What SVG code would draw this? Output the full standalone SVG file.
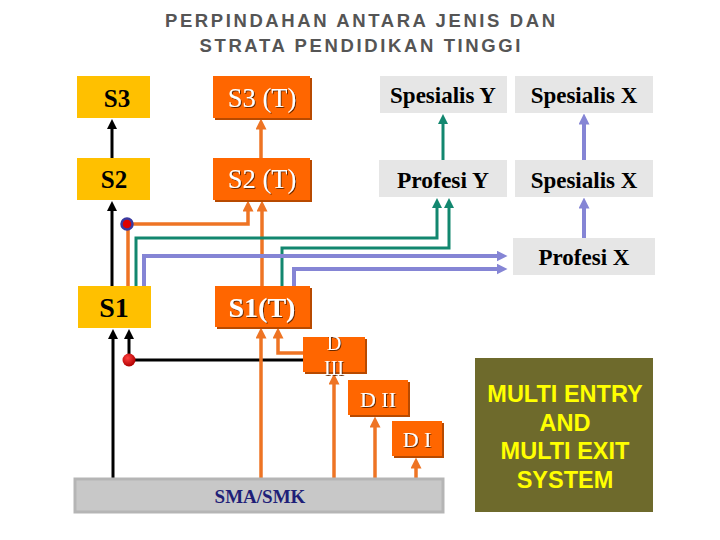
<svg xmlns="http://www.w3.org/2000/svg" width="720" height="540" viewBox="0 0 720 540">
<defs>
<style>
.title{font-family:"Liberation Sans",Arial,sans-serif;font-weight:bold;font-size:18.5px;fill:#555555;text-anchor:middle}
.yel{fill:#FFC000}
.org{fill:#FF6600}
.orgsh{fill:#B84A00}
.gry{fill:#E6E6E6}
.tb{font-family:"Liberation Serif","Times New Roman",serif;font-weight:bold;fill:#000;text-anchor:middle}
.tw{font-family:"Liberation Serif","Times New Roman",serif;fill:#FFFFFF;text-anchor:middle;filter:url(#ts)}
.ln{fill:none;stroke-linejoin:miter;stroke-linecap:butt}
.k{stroke:#000000;stroke-width:3}
.o{stroke:#EE7424;stroke-width:3.5}
.g{stroke:#12876F;stroke-width:3}
.p{stroke:#8585D5;stroke-width:4}
.multi{font-family:"Liberation Sans",Arial,sans-serif;font-weight:bold;font-size:23.5px;fill:#FFFF00;text-anchor:middle}
</style>
<filter id="ts" x="-10%" y="-10%" width="130%" height="140%">
<feDropShadow dx="1" dy="1" stdDeviation="0.6" flood-color="#5A2000" flood-opacity="0.9"/>
</filter>
<marker id="ak" viewBox="0 0 10 10" refX="5" refY="5" markerWidth="10" markerHeight="10" markerUnits="userSpaceOnUse" orient="auto"><path d="M0,0 L10,5 L0,10 z" fill="#000000"/></marker>
<marker id="ao" viewBox="0 0 10 10" refX="5" refY="5" markerWidth="11" markerHeight="11" markerUnits="userSpaceOnUse" orient="auto"><path d="M0,0 L10,5 L0,10 z" fill="#EE7424"/></marker>
<marker id="ag" viewBox="0 0 10 10" refX="5" refY="5" markerWidth="10" markerHeight="10" markerUnits="userSpaceOnUse" orient="auto"><path d="M0,0 L10,5 L0,10 z" fill="#12876F"/></marker>
<marker id="ap" viewBox="0 0 10 10" refX="5" refY="5" markerWidth="11" markerHeight="11" markerUnits="userSpaceOnUse" orient="auto"><path d="M0,0 L10,5 L0,10 z" fill="#8585D5"/></marker>
<radialGradient id="red" cx="40%" cy="35%" r="65%"><stop offset="0" stop-color="#FF4040"/><stop offset="1" stop-color="#B00000"/></radialGradient>
</defs>
<rect width="720" height="540" fill="#FFFFFF"/>
<g id="title">
<text class="title" x="360" y="27" textLength="390" lengthAdjust="spacing">PERPINDAHAN ANTARA JENIS DAN</text>
<text class="title" x="360" y="52" textLength="321" lengthAdjust="spacing">STRATA PENDIDIKAN TINGGI</text>
</g>
<g id="connectors">
<path class="ln k" d="M112,158 V124" marker-end="url(#ak)"/>
<path class="ln o" d="M261,158 V124" marker-end="url(#ao)"/>
<path class="ln g" d="M443,160 V119" stroke-width="4" marker-end="url(#ag)"/>
<path class="ln p" d="M584,160 V119" marker-end="url(#ap)"/>
<path class="ln p" d="M584,238 V203" marker-end="url(#ap)"/>
<path class="ln k" d="M112,286 V206" marker-end="url(#ak)"/>
<path class="ln o" d="M128,286 V224 H248 V206" marker-end="url(#ao)"/>
<path class="ln o" d="M262,286 V206" marker-end="url(#ao)"/>
<path class="ln g" d="M136,286 V238 H437 V203" marker-end="url(#ag)"/>
<path class="ln g" d="M282,286 V248 H449 V203" marker-end="url(#ag)"/>
<path class="ln p" d="M144,286 V256 H502" marker-end="url(#ap)"/>
<path class="ln p" d="M294,286 V269 H502" marker-end="url(#ap)"/>
<path class="ln k" d="M113,478 V334" marker-end="url(#ak)"/>
<path class="ln k" d="M129,360 V334" marker-end="url(#ak)"/>
<path class="ln k" d="M129,360 H303"/>
<path class="ln o" d="M261,478 V333" marker-end="url(#ao)"/>
<path class="ln o" d="M303,353 H278 V333" marker-end="url(#ao)"/>
<path class="ln o" d="M334,478 V379" marker-end="url(#ao)"/>
<path class="ln o" d="M375,478 V422" marker-end="url(#ao)"/>
<path class="ln o" d="M416,478 V463" marker-end="url(#ao)"/>
<circle cx="127" cy="224" r="5.5" fill="#E00000" stroke="#3A3AA0" stroke-width="2.5"/>
<circle cx="129" cy="360" r="6.5" fill="url(#red)"/>
</g>
<g id="S3"><rect class="yel" x="77" y="76" width="73" height="42"/><text class="tb" x="117" y="107" font-size="25">S3</text></g>
<g id="S3T"><rect class="orgsh" x="215" y="78" width="97" height="42"/><rect class="org" x="213" y="76" width="97" height="42"/><text class="tw" x="262" y="107" font-size="26.5">S3 (T)</text></g>
<g id="SpesialisY"><rect class="gry" x="380" y="76" width="127" height="37"/><text class="tb" x="443" y="103" font-size="23">Spesialis Y</text></g>
<g id="SpesialisX1"><rect class="gry" x="515" y="76" width="138" height="37"/><text class="tb" x="584" y="103" font-size="23">Spesialis X</text></g>
<g id="S2"><rect class="yel" x="77" y="158" width="73" height="42"/><text class="tb" x="114" y="188" font-size="25">S2</text></g>
<g id="S2T"><rect class="orgsh" x="215" y="160" width="97" height="42"/><rect class="org" x="213" y="158" width="97" height="42"/><text class="tw" x="262" y="188" font-size="26.5">S2 (T)</text></g>
<g id="ProfesiY"><rect class="gry" x="379" y="160" width="128" height="37"/><text class="tb" x="443" y="188" font-size="23.5">Profesi Y</text></g>
<g id="SpesialisX2"><rect class="gry" x="515" y="160" width="138" height="37"/><text class="tb" x="584" y="188" font-size="23">Spesialis X</text></g>
<g id="ProfesiX"><rect class="gry" x="513" y="238" width="142" height="37"/><text class="tb" x="584" y="265" font-size="23">Profesi X</text></g>
<g id="S1"><rect class="yel" x="78" y="286" width="73" height="42"/><text class="tb" x="114" y="317" font-size="28">S1</text></g>
<g id="S1T"><rect class="orgsh" x="217" y="288" width="95" height="41"/><rect class="org" x="215" y="286" width="95" height="41"/><text class="tw" x="262" y="317" font-size="28" font-weight="bold">S1(T)</text></g>
<g id="DIII"><rect class="orgsh" x="305" y="339" width="62" height="35"/><rect class="org" x="303" y="337" width="62" height="35"/><text class="tw" x="334" y="350" font-size="20">D</text><text class="tw" x="334" y="375" font-size="20">III</text></g>
<g id="DII"><rect class="orgsh" x="350" y="382" width="60" height="35"/><rect class="org" x="348" y="380" width="60" height="35"/><text class="tw" x="378" y="407" font-size="22">D II</text></g>
<g id="DI"><rect class="orgsh" x="394" y="423" width="50" height="35"/><rect class="org" x="392" y="421" width="50" height="35"/><text class="tw" x="417" y="447" font-size="22" xml:space="preserve">D I</text></g>
<g id="SMASMK"><rect x="75" y="479" width="368" height="33" fill="#C8C8C8" stroke="#B5B5B5" stroke-width="3"/><text class="tb" x="260" y="503" font-size="19" style="fill:#1F1F78">SMA/SMK</text></g>
<g id="multi"><rect x="475" y="358" width="178" height="154" fill="#6E6A2C"/>
<text class="multi" x="565" y="402">MULTI ENTRY</text>
<text class="multi" x="565" y="431">AND</text>
<text class="multi" x="565" y="459">MULTI EXIT</text>
<text class="multi" x="565" y="488">SYSTEM</text></g>
</svg>
